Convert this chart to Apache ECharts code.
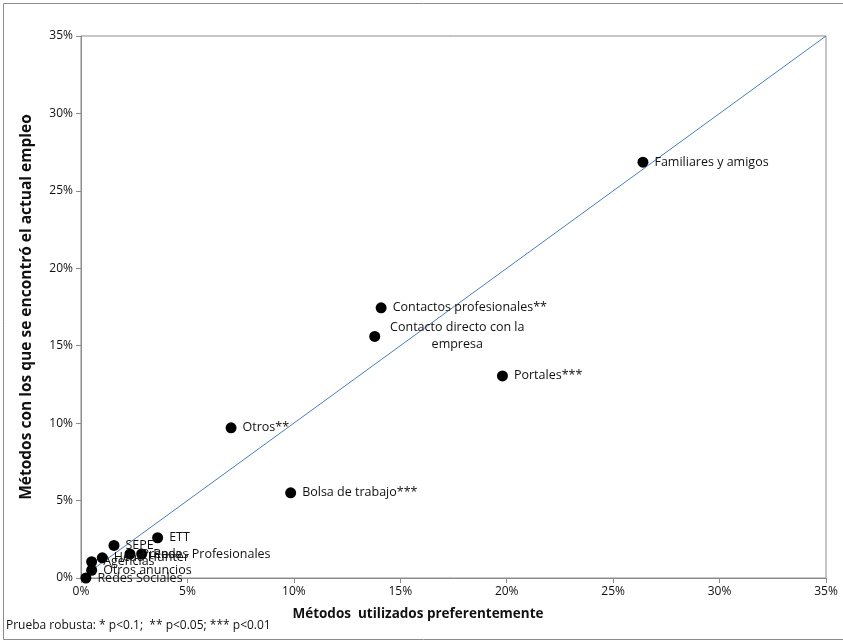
<!DOCTYPE html>
<html>
<head>
<meta charset="utf-8">
<script src="https://cdn.jsdelivr.net/npm/echarts@6/dist/echarts.min.js"></script>
<style>
  html, body { margin: 0; padding: 0; background: #fff; }
  #chart { width: 843px; height: 640px; }
</style>
</head>
<body>
<div id="chart"></div>
<script>
// métodos y porcentajes (x: preferidos, y: con los que se encontró empleo)
const names = ['Familiares y amigos', 'Contactos profesionales**', 'Contacto directo con la\nempresa',
  'Portales***', 'Otros**', 'Bolsa de trabajo***', 'ETT', 'SEPE', 'Head Hunter', 'Prensa',
  'Redes Profesionales', 'Agencias', 'Otros anuncios', 'Redes Sociales']
const xVals = [26.4, 14.1, 13.8, 19.8, 7.05, 9.85, 3.6, 1.55, 1.0, 2.3, 2.85, 0.5, 0.5, 0.23]
const yVals = [26.85, 17.45, 15.6, 13.05, 9.7, 5.5, 2.6, 2.1, 1.3, 1.55, 1.55, 1.05, 0.5, 0.0]
const ticks = [0, 5, 10, 15, 20, 25, 30, 35]

const chartDom = document.getElementById('chart')
const myChart = echarts.init(chartDom)

const pts = names.map((n, i) => {
  const item = { name: n, value: [xVals[i], yVals[i]] }
  if (i === 2) {
    // etiqueta de dos líneas centrada
    item.label = { position: [88, 5.5], align: 'center', verticalAlign: 'middle', lineHeight: 17 }
  }
  return item
})

const option = {
  animation: false,
  textStyle: { fontFamily: 'Open Sans' },
  grid: {
    left: 81, right: 17, top: 36, bottom: 62,
    show: true, borderColor: '#8c8c8c', borderWidth: 1
  },
  xAxis: {
    type: 'value', min: 0, max: 35, interval: 5,
    axisLine: { show: true, lineStyle: { color: '#8c8c8c' } },
    axisTick: { show: true, length: 5, lineStyle: { color: '#8c8c8c' } },
    axisLabel: { color: '#111', fontSize: 12, margin: 8, formatter: v => v + '%' },
    splitLine: { show: false }
  },
  yAxis: {
    type: 'value', min: 0, max: 35, interval: 5,
    name: 'Métodos con los que se encontró el actual empleo',
    nameLocation: 'middle', nameGap: 46,
    nameTextStyle: { fontWeight: 'bold', fontSize: 15.5, color: '#111', fontFamily: 'Open Sans' },
    axisLine: { show: true, lineStyle: { color: '#8c8c8c' } },
    axisTick: { show: true, length: 5, lineStyle: { color: '#8c8c8c' } },
    axisLabel: { color: '#111', fontSize: 12, margin: 8, formatter: v => v + '%' },
    splitLine: { show: false }
  },
  graphic: [
    { type: 'rect', left: 1, top: 1, shape: { width: 840, height: 636 },
      style: { fill: 'none', stroke: '#8c8c8c', lineWidth: 1 } },
    { type: 'text', x: 418, y: 614,
      style: { text: 'Métodos  utilizados preferentemente', fontSize: 13.5, fontWeight: 'bold',
        fill: '#111', fontFamily: 'Open Sans', align: 'center', verticalAlign: 'middle' } },
    { type: 'text', left: 6, top: 620,
      style: { text: 'Prueba robusta: * p<0.1;  ** p<0.05; *** p<0.01', fontSize: 12, fill: '#111', fontFamily: 'Open Sans' } }
  ],
  series: [
    {
      type: 'line',
      data: [[ticks[0], ticks[0]], [ticks[ticks.length - 1], ticks[ticks.length - 1]]],
      symbol: 'none',
      lineStyle: { color: '#4a7ebb', width: 1 },
      silent: true
    },
    {
      type: 'scatter',
      data: pts,
      symbol: 'circle',
      symbolSize: 11,
      itemStyle: { color: '#000', opacity: 1 },
      label: {
        show: true, position: 'right', distance: 6,
        formatter: p => p.name,
        color: '#111', fontSize: 12.5, fontFamily: 'Open Sans'
      },
      labelLayout: { hideOverlap: false },
      z: 3
    }
  ]
}

myChart.setOption(option)
</script>
</body>
</html>
